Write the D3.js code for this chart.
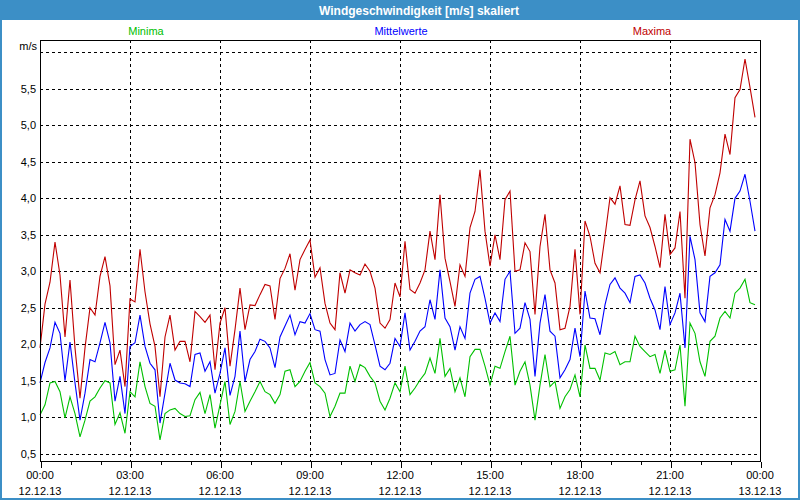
<!DOCTYPE html>
<html>
<head>
<meta charset="utf-8">
<script src="https://cdn.jsdelivr.net/npm/d3@7.9.0/dist/d3.min.js"></script>
<style>
  html, body { margin: 0; padding: 0; background: #fff; }
  svg { display: block; font-family: "Liberation Sans", Arial, sans-serif; }
</style>
</head>
<body>
<svg id="chart" width="800" height="500"></svg>
<script>
// readings every 10 minutes, 12.12.13 00:00 - 23:50
const startTime = new Date(2013, 11, 12, 0, 0);
const endTime = new Date(2013, 11, 13, 0, 0);
const stepMinutes = 10;

const maxima = [1.95, 2.55, 2.85, 3.4, 2.95, 2.1, 2.88, 1.95, 1.26, 1.95, 2.5, 2.4, 2.93, 3.2, 2.8, 1.72, 1.92, 1.42, 2.62, 2.58,
  3.3, 2.72, 2.28, 1.97, 1.28, 2.1, 2.4, 1.92, 2.04, 2.04, 1.76, 2.45, 2.38, 2.3, 2.4, 1.65, 2.29, 2.5, 1.7,
  2.2, 2.77, 2.2, 2.54, 2.53, 2.68, 2.82, 2.8, 2.34, 2.9, 3.04, 3.24, 2.74, 3.16, 3.3, 3.43, 2.92, 3.05, 2.56, 2.29,
  2.2, 2.98, 2.7, 3.02, 2.98, 2.95, 3.1, 3.0, 2.77, 2.29, 2.22, 2.34, 2.84, 2.65, 3.41, 2.75, 2.7, 2.84,
  3.02, 3.55, 3.16, 4.05, 3.18, 2.86, 2.52, 3.09, 2.93, 3.6, 3.82, 4.39, 3.55, 3.07, 3.5, 3.16, 3.98, 4.1, 3.0, 3.02,
  3.39, 3.27, 2.41, 3.34, 3.78, 3.02, 2.84, 2.2, 2.22, 2.52, 3.3, 2.41, 3.69, 3.48, 3.11, 2.98,
  3.48, 4.01, 3.92, 4.17, 3.64, 3.63, 3.98, 4.24, 3.76, 3.6, 3.34, 3.05, 3.78, 3.23, 3.32, 3.82, 2.63, 4.81, 4.49, 3.64,
  3.21, 3.87, 4.05, 4.35, 4.88, 4.6, 5.38, 5.49, 5.91, 5.52, 5.11];

const mittelwerte = [1.47, 1.75, 1.95, 2.3, 2.15, 1.5, 2.03, 1.47, 0.96, 1.33, 1.79, 1.76, 2.02, 2.3, 2.02, 1.22, 1.56, 1.05, 1.97, 2.02,
  2.4, 1.97, 1.74, 1.65, 0.92, 1.33, 1.74, 1.51, 1.47, 1.46, 1.42, 1.86, 1.88, 1.63, 1.76, 1.33, 1.6, 1.95, 1.3,
  1.56, 2.18, 1.49, 1.79, 1.9, 2.07, 2.04, 1.95, 1.68, 2.1, 2.25, 2.4, 2.13, 2.31, 2.29, 2.42, 2.2, 2.18, 1.79, 1.58,
  1.6, 2.06, 1.9, 2.29, 2.18, 2.27, 2.31, 2.27, 1.99, 1.7, 1.65, 1.74, 2.08, 1.97, 2.43, 1.92, 2.04, 2.18,
  2.24, 2.61, 2.34, 3.02, 2.36, 2.24, 1.92, 2.24, 2.08, 2.7, 2.89, 2.93, 2.63, 2.29, 2.43, 2.31, 2.89, 3.0, 2.15, 2.22,
  2.57, 2.34, 1.56, 2.29, 2.68, 2.18, 2.11, 1.54, 1.65, 1.79, 2.22, 1.83, 2.73, 2.36, 2.35, 2.13,
  2.54, 2.82, 2.91, 2.77, 2.7, 2.57, 2.93, 2.95, 2.84, 2.63, 2.47, 2.2, 2.79, 2.27, 2.43, 2.7, 1.95, 3.48, 3.16, 2.43,
  2.31, 2.93, 2.98, 3.09, 3.71, 3.55, 4.0, 4.1, 4.33, 3.96, 3.55];

const minima = [1.03, 1.17, 1.47, 1.49, 1.35, 0.99, 1.28, 1.05, 0.73, 0.96, 1.22, 1.28, 1.4, 1.5, 1.47, 0.9, 1.06, 0.78, 1.35, 1.28,
  1.76, 1.42, 1.19, 1.15, 0.69, 1.05, 1.1, 1.12, 1.05, 1.01, 1.02, 1.24, 1.34, 1.05, 1.31, 0.85, 1.17, 1.49, 0.9,
  1.08, 1.49, 1.08, 1.22, 1.35, 1.49, 1.35, 1.31, 1.19, 1.31, 1.63, 1.65, 1.42, 1.49, 1.63, 1.75, 1.47, 1.42, 1.33, 1.01,
  1.15, 1.33, 1.33, 1.7, 1.49, 1.72, 1.68, 1.56, 1.47, 1.22, 1.1, 1.26, 1.47, 1.35, 1.7, 1.31, 1.4, 1.51,
  1.6, 1.81, 1.6, 2.08, 1.56, 1.67, 1.35, 1.54, 1.28, 1.83, 1.93, 1.93, 1.7, 1.44, 1.7, 1.67, 1.9, 2.11, 1.44, 1.63,
  1.76, 1.44, 0.96, 1.44, 1.86, 1.42, 1.49, 1.12, 1.28, 1.38, 1.58, 1.28, 1.99, 1.67, 1.67, 1.51,
  1.88, 1.86, 1.9, 1.72, 1.76, 1.76, 2.11, 1.97, 1.9, 1.83, 1.86, 1.6, 1.92, 1.63, 1.65, 1.99, 1.15, 2.29, 2.15, 1.76,
  1.56, 2.04, 2.11, 2.36, 2.45, 2.36, 2.7, 2.77, 2.89, 2.57, 2.54];

const yTicks = [0.5, 1.0, 1.5, 2.0, 2.5, 3.0, 3.5, 4.0, 4.5, 5.0, 5.5];
const yGrid = [0.5, 1.0, 1.5, 2.0, 2.5, 3.0, 3.5, 4.0, 4.5, 5.0, 5.5, 6.0];
const timeLabels = ['00:00', '03:00', '06:00', '09:00', '12:00', '15:00', '18:00', '21:00', '00:00'];
const dateLabels = ['12.12.13', '12.12.13', '12.12.13', '12.12.13', '12.12.13', '12.12.13', '12.12.13', '12.12.13', '13.12.13'];

const seriesList = [
  { name: 'Minima', values: minima, color: '#00c000', labelX: 146 },
  { name: 'Mittelwerte', values: mittelwerte, color: '#0000ff', labelX: 401 },
  { name: 'Maxima', values: maxima, color: '#c00000', labelX: 652 }
];

const W = 800, H = 500;
const plotLeft = 40, plotRight = 760, plotTop = 40, plotBottom = 461;

const svg = d3.select('#chart');

// window frame + title bar
svg.append('rect').attr('x', 0).attr('y', 0).attr('width', W).attr('height', H).attr('fill', '#fff');
svg.append('rect').attr('x', 0).attr('y', 0).attr('width', W).attr('height', 20).attr('fill', '#3c8fc6');
svg.append('rect').attr('x', 1).attr('y', 1).attr('width', W - 2).attr('height', H - 2)
  .attr('fill', 'none').attr('stroke', '#3c8fc6').attr('stroke-width', 2);
svg.append('text').attr('x', 419).attr('y', 14.5).attr('text-anchor', 'middle')
  .attr('fill', '#fff').attr('font-weight', 'bold').attr('font-size', 12)
  .text('Windgeschwindigkeit [m/s] skaliert');

const x = d3.scaleTime().domain([startTime, endTime]).range([plotLeft, plotRight]);
const y = d3.scaleLinear().domain([0.4, 6.17]).range([plotBottom, plotTop]);

const times = maxima.map((_, i) => d3.timeMinute.offset(startTime, i * stepMinutes));
const majorTicks = d3.timeHour.every(3).range(startTime, d3.timeMinute.offset(endTime, 1));
const minorTicks = d3.timeHour.every(1).range(startTime, d3.timeMinute.offset(endTime, 1));

// grid
const grid = svg.append('g').attr('shape-rendering', 'crispEdges')
  .attr('stroke', '#000').attr('stroke-dasharray', '3,3');
grid.selectAll('.hgrid').data(yGrid).join('line')
  .attr('x1', plotLeft).attr('x2', plotRight)
  .attr('y1', d => Math.round(y(d)) + 0.5).attr('y2', d => Math.round(y(d)) + 0.5);
grid.selectAll('.vgrid').data(majorTicks.slice(1, -1)).join('line')
  .attr('x1', d => Math.round(x(d)) + 0.5).attr('x2', d => Math.round(x(d)) + 0.5)
  .attr('y1', plotTop).attr('y2', plotBottom);

// series lines
const line = d3.line().x((d, i) => x(times[i])).y(d => y(d));
seriesList.forEach(s => {
  svg.append('path').datum(s.values)
    .attr('d', line).attr('fill', 'none')
    .attr('stroke', s.color).attr('stroke-width', 1.1);
});

// legend
svg.selectAll('.legend').data(seriesList).join('text')
  .attr('x', d => d.labelX).attr('y', 35)
  .attr('text-anchor', 'middle').attr('font-size', 11)
  .attr('fill', d => d.color).text(d => d.name);

// frame of plot area
svg.append('rect').attr('x', plotLeft + 0.5).attr('y', plotTop + 0.5)
  .attr('width', plotRight - plotLeft).attr('height', plotBottom - plotTop)
  .attr('fill', 'none').attr('stroke', '#000').attr('shape-rendering', 'crispEdges');

// x axis ticks
const xAxisG = svg.append('g').attr('transform', `translate(0.5,${plotBottom + 0.5})`);
xAxisG.call(d3.axisBottom(x).tickValues(minorTicks).tickSize(3).tickFormat(''));
xAxisG.append('g').call(d3.axisBottom(x).tickValues(majorTicks).tickSize(6).tickFormat(''));
xAxisG.selectAll('.domain').remove();
xAxisG.selectAll('line').attr('shape-rendering', 'crispEdges');

svg.selectAll('.tlabel').data(majorTicks).join('text')
  .attr('x', d => x(d)).attr('y', 479)
  .attr('text-anchor', 'middle').attr('font-size', 11).attr('fill', '#000')
  .text((d, i) => timeLabels[i]);
svg.selectAll('.dlabel').data(majorTicks).join('text')
  .attr('x', d => x(d)).attr('y', 495)
  .attr('text-anchor', 'middle').attr('font-size', 11).attr('fill', '#000')
  .text((d, i) => dateLabels[i]);

// y axis labels
const yAxisG = svg.append('g').attr('transform', `translate(${plotLeft},0)`)
  .call(d3.axisLeft(y).tickValues(yTicks).tickSize(0).tickPadding(4)
    .tickFormat(d => d3.format('.1f')(d).replace('.', ',')));
yAxisG.select('.domain').remove();
yAxisG.selectAll('text').attr('font-size', 11).attr('font-family', '"Liberation Sans", Arial, sans-serif').attr('fill', '#000');

svg.append('text').attr('x', 37).attr('y', 50).attr('text-anchor', 'end')
  .attr('font-size', 11).attr('fill', '#000').text('m/s');
</script>
</body>
</html>
